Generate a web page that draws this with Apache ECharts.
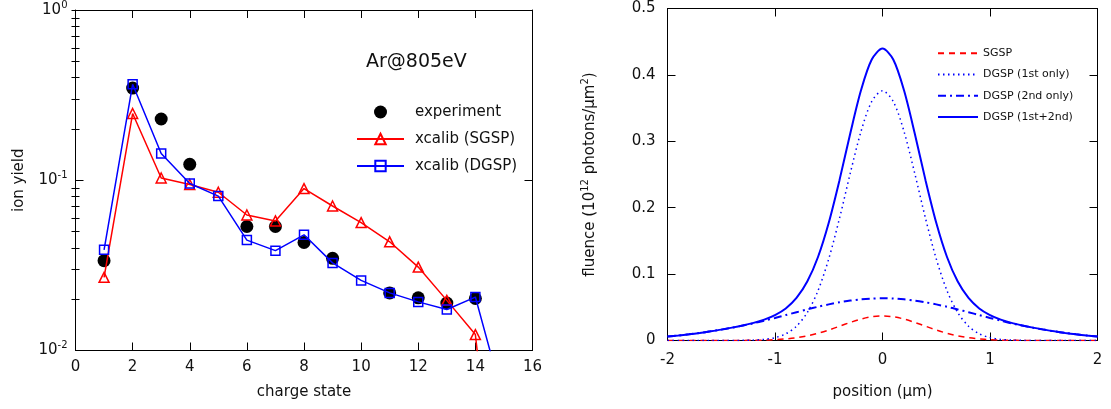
<!DOCTYPE html>
<html><head><meta charset="utf-8">
<script src="https://cdn.jsdelivr.net/npm/echarts@6/dist/echarts.min.js"></script>
<style>html,body{margin:0;padding:0;background:#fff}#c{width:1111px;height:409px}</style>
</head><body><div id="c"></div>
<script>
// ---------- left panel: ion yield vs charge state ----------
const chargeStates = [1, 2, 3, 4, 5, 6, 7, 8, 9, 10, 11, 12, 13, 14, 15];
const experimentYield = [0.0337, 0.348, 0.229, 0.124, null, 0.0535, 0.0535, 0.0431, 0.0348, null, 0.0218, 0.0204, 0.0190, 0.0202, null];
const sgspYield = [0.0269, 0.2466, 0.1031, 0.0944, 0.0850, 0.0625, 0.0577, 0.0893, 0.0706, 0.0564, 0.0435, 0.0309, 0.0197, 0.0124, 0.0004];
const dgspYield = [0.0390, 0.3660, 0.1436, 0.0957, 0.0807, 0.0445, 0.0386, 0.0478, 0.0327, 0.0258, 0.0218, 0.0193, 0.0174, 0.0206, 0.0050];
const leftXTicks = [0, 2, 4, 6, 8, 10, 12, 14, 16];
const leftYMajorTicks = [0.01, 0.1, 1];
const leftYTickExponents = ['-2', '-1', '0'];
const leftYMinorTicks = [0.02, 0.03, 0.04, 0.05, 0.06, 0.07, 0.08, 0.09, 0.2, 0.3, 0.4, 0.5, 0.6, 0.7, 0.8, 0.9];

// ---------- right panel: fluence profiles ----------
const positionUm = [-2.0, -1.9, -1.8, -1.7, -1.6, -1.5, -1.4, -1.3, -1.2, -1.1, -1.0, -0.9, -0.8, -0.7, -0.6, -0.5, -0.4, -0.3, -0.2, -0.1, 0.0,
                    0.1, 0.2, 0.3, 0.4, 0.5, 0.6, 0.7, 0.8, 0.9, 1.0, 1.1, 1.2, 1.3, 1.4, 1.5, 1.6, 1.7, 1.8, 1.9, 2.0];
const fluenceSGSP = [0, 0, 0, 0, 0, 0, 0, 0.0001, 0.0003, 0.0006, 0.0012, 0.0024, 0.0042, 0.0070, 0.0109, 0.0158, 0.0215, 0.0272, 0.0323, 0.0358, 0.0370,
                     0.0358, 0.0323, 0.0272, 0.0215, 0.0158, 0.0109, 0.0070, 0.0042, 0.0024, 0.0012, 0.0006, 0.0003, 0.0001, 0, 0, 0, 0, 0, 0, 0];
const fluenceDGSP1st = [0, 0, 0, 0, 0, 0, 0.0001, 0.0002, 0.0006, 0.0016, 0.0043, 0.0100, 0.0215, 0.0420, 0.0750, 0.1230, 0.1840, 0.2517, 0.3148, 0.3600, 0.3760,
                        0.3600, 0.3148, 0.2517, 0.1840, 0.1230, 0.0750, 0.0420, 0.0215, 0.0100, 0.0043, 0.0016, 0.0006, 0.0002, 0.0001, 0, 0, 0, 0, 0, 0];
const fluenceDGSP2nd = [0.0059, 0.0075, 0.0093, 0.0114, 0.0138, 0.0164, 0.0193, 0.0225, 0.0259, 0.0299, 0.0340, 0.0383, 0.0426, 0.0468, 0.0508, 0.0544, 0.0575, 0.0601, 0.0620, 0.0632, 0.0636,
                        0.0632, 0.0620, 0.0601, 0.0575, 0.0544, 0.0508, 0.0468, 0.0426, 0.0383, 0.0340, 0.0299, 0.0259, 0.0225, 0.0193, 0.0164, 0.0138, 0.0114, 0.0093, 0.0075, 0.0059];
const fluenceDGSPBoth = [0.0059, 0.0075, 0.0093, 0.0114, 0.0138, 0.0164, 0.0194, 0.0227, 0.0265, 0.0315, 0.0383, 0.0483, 0.0641, 0.0888, 0.1258, 0.1774, 0.2415, 0.3118, 0.3768, 0.4232, 0.4396,
                         0.4232, 0.3768, 0.3118, 0.2415, 0.1774, 0.1258, 0.0888, 0.0641, 0.0483, 0.0383, 0.0315, 0.0265, 0.0227, 0.0194, 0.0164, 0.0138, 0.0114, 0.0093, 0.0075, 0.0059];
const rightXTicks = [-2, -1, 0, 1, 2];
const rightYTicks = [0, 0.1, 0.2, 0.3, 0.4, 0.5];

const FONT = 'DejaVu Sans';
const TXT = '#111';
const pairs = (xs, ys) => xs.map((x, i) => [x, ys[i]]);

const supRich = { sup: { fontSize: 10, verticalAlign: 'top', fontFamily: FONT, color: TXT } };

function frameAxis(base, extra) {
  return Object.assign({
    axisLine: { show: true, onZero: false, lineStyle: { color: '#000', width: 1 } },
    axisTick: { show: true, inside: true, length: 8, lineStyle: { color: '#000', width: 1 } },
    axisLabel: { show: false },
    splitLine: { show: false },
    minorTick: { show: false }
  }, base, extra);
}
// helper log axis that only carries the 2..9 minor ticks of each decade
function minorAxis(pos) {
  return {
    type: 'log', logBase: 10, gridIndex: 0, position: pos,
    min: leftYMajorTicks[0], max: leftYMajorTicks[leftYMajorTicks.length - 1],
    axisLine: { show: false },
    // trailing max value keeps the last minor tick from being dropped
    axisTick: { show: true, inside: true, length: 4, customValues: leftYMinorTicks.concat([leftYMajorTicks[leftYMajorTicks.length - 1]]),
      lineStyle: { color: '#000', width: 1 } },
    axisLabel: { show: false }, splitLine: { show: false }
  };
}

const option = {
  animation: false,
  backgroundColor: '#fff',
  textStyle: { fontFamily: FONT, color: TXT },
  title: {
    text: 'Ar@805eV', left: 361, top: 48,
    textStyle: { fontFamily: FONT, fontSize: 19, fontWeight: 'normal', color: TXT }
  },
  legend: [
    {
      data: ['experiment', 'xcalib (SGSP)', 'xcalib (DGSP)'],
      orient: 'vertical', left: 356, top: 104.5, padding: 0,
      itemWidth: 47, itemHeight: 13, itemGap: 12,
      textStyle: { fontFamily: FONT, fontSize: 15, color: TXT, lineHeight: 13, padding: [0, 0, 0, 6] },
      selectedMode: false
    },
    {
      data: ['SGSP', 'DGSP (1st only)', 'DGSP (2nd only)', 'DGSP (1st+2nd)'],
      orient: 'vertical', left: 937, top: 47.7, padding: 0,
      itemWidth: 40, itemHeight: 10, itemGap: 10.3,
      itemStyle: { color: 'rgba(0,0,0,0)', borderColor: 'rgba(0,0,0,0)', borderWidth: 0 },
      textStyle: { fontFamily: FONT, fontSize: 11, color: TXT, lineHeight: 10 },
      selectedMode: false
    }
  ],
  grid: [
    { left: 75.5, top: 7.5, width: 457, height: 343 },
    { left: 667.5, top: 8.5, width: 430, height: 332 }
  ],
  xAxis: [
    frameAxis({ type: 'value', gridIndex: 0, position: 'bottom', min: leftXTicks[0], max: leftXTicks[leftXTicks.length - 1], interval: 2,
      name: 'charge state', nameLocation: 'middle', nameGap: 34,
      nameTextStyle: { fontFamily: FONT, fontSize: 15, color: TXT } },
      { axisLabel: { show: true, fontFamily: FONT, fontSize: 15, color: TXT, margin: 9 } }),
    frameAxis({ type: 'value', gridIndex: 0, position: 'top', min: 0, max: 16, interval: 2 }),
    frameAxis({ type: 'value', gridIndex: 1, position: 'bottom', min: rightXTicks[0], max: rightXTicks[rightXTicks.length - 1], interval: 1,
      name: 'position (µm)', nameLocation: 'middle', nameGap: 44,
      nameTextStyle: { fontFamily: FONT, fontSize: 15, color: TXT } },
      { axisLabel: { show: true, fontFamily: FONT, fontSize: 15, color: TXT, margin: 12 } }),
    frameAxis({ type: 'value', gridIndex: 1, position: 'top', min: -2, max: 2, interval: 1 })
  ],
  yAxis: [
    frameAxis({ type: 'log', logBase: 10, gridIndex: 0, position: 'left', min: leftYMajorTicks[0], max: leftYMajorTicks[leftYMajorTicks.length - 1], interval: 1,
      name: 'ion yield', nameLocation: 'middle', nameGap: 49,
      nameTextStyle: { fontFamily: FONT, fontSize: 15, color: TXT } },
      { axisLabel: { show: true, fontFamily: FONT, fontSize: 15, color: TXT, margin: 8, lineHeight: 20,
          formatter: function (v) {
            const e = Math.round(Math.log10(v));
            const idx = leftYMajorTicks.findIndex(t => Math.round(Math.log10(t)) === e);
            return '10{sup|' + (idx >= 0 ? leftYTickExponents[idx] : String(e)) + '}';
          },
          rich: supRich } }),
    frameAxis({ type: 'log', logBase: 10, gridIndex: 0, position: 'right', min: 0.01, max: 1, interval: 1 }),
    minorAxis('left'),
    minorAxis('right'),
    frameAxis({ type: 'value', gridIndex: 1, position: 'left', min: rightYTicks[0], max: rightYTicks[rightYTicks.length - 1], interval: 0.1,
      name: '{n|fluence (10}{sup|12}{n| photons/µm}{sup|2}{n|)}', nameLocation: 'middle', nameGap: 67,
      nameTextStyle: { fontFamily: FONT, fontSize: 15, color: TXT, lineHeight: 20,
        rich: { n: { fontFamily: FONT, fontSize: 15, color: TXT }, sup: { fontFamily: FONT, fontSize: 10, color: TXT, verticalAlign: 'top' } } } },
      { axisLabel: { show: true, fontFamily: FONT, fontSize: 15, color: TXT, margin: 12 } }),
    frameAxis({ type: 'value', gridIndex: 1, position: 'right', min: 0, max: 0.5, interval: 0.1 })
  ],
  series: [
    {
      name: 'experiment', type: 'scatter', xAxisIndex: 0, yAxisIndex: 0,
      data: pairs(chargeStates, experimentYield).filter(p => p[1] !== null),
      symbol: 'circle', symbolSize: 13, itemStyle: { color: '#000', opacity: 1 }, z: 2,
      emphasis: { disabled: true }
    },
    {
      name: 'xcalib (SGSP)', type: 'line', xAxisIndex: 0, yAxisIndex: 0,
      data: pairs(chargeStates, sgspYield), clip: true,
      symbol: 'triangle', symbolSize: 10, showAllSymbol: true,
      lineStyle: { color: '#ff0000', width: 1.5 },
      itemStyle: { color: 'rgba(255,255,255,0)', borderColor: '#ff0000', borderWidth: 1.5 }, z: 3,
      emphasis: { disabled: true }
    },
    {
      name: 'xcalib (DGSP)', type: 'line', xAxisIndex: 0, yAxisIndex: 0,
      data: pairs(chargeStates, dgspYield), clip: true,
      symbol: 'rect', symbolSize: 9, showAllSymbol: true,
      lineStyle: { color: '#0000ff', width: 1.5 },
      itemStyle: { color: 'rgba(255,255,255,0)', borderColor: '#0000ff', borderWidth: 1.5 }, z: 4,
      emphasis: { disabled: true }
    },
    {
      name: 'SGSP', type: 'line', xAxisIndex: 2, yAxisIndex: 4, smooth: 0.3,
      data: pairs(positionUm, fluenceSGSP), symbol: 'none',
      lineStyle: { color: '#ff0000', width: 1.5, type: [6, 5] }, itemStyle: { color: '#ff0000' },
      emphasis: { disabled: true }
    },
    {
      name: 'DGSP (1st only)', type: 'line', xAxisIndex: 2, yAxisIndex: 4, smooth: 0.3,
      data: pairs(positionUm, fluenceDGSP1st), symbol: 'none',
      lineStyle: { color: '#0000ff', width: 1.5, type: [1.5, 3.5] }, itemStyle: { color: '#0000ff' },
      emphasis: { disabled: true }
    },
    {
      name: 'DGSP (2nd only)', type: 'line', xAxisIndex: 2, yAxisIndex: 4, smooth: 0.3,
      data: pairs(positionUm, fluenceDGSP2nd), symbol: 'none',
      lineStyle: { color: '#0000ff', width: 2, type: [8, 4, 2, 4] }, itemStyle: { color: '#0000ff' },
      emphasis: { disabled: true }
    },
    {
      name: 'DGSP (1st+2nd)', type: 'line', xAxisIndex: 2, yAxisIndex: 4, smooth: 0.3,
      data: pairs(positionUm, fluenceDGSPBoth), symbol: 'none',
      lineStyle: { color: '#0000ff', width: 2 }, itemStyle: { color: '#0000ff' },
      emphasis: { disabled: true }
    }
  ]
};

const chart = echarts.init(document.getElementById('c'), null, { renderer: 'canvas' });
chart.setOption(option);
</script>
</body></html>
